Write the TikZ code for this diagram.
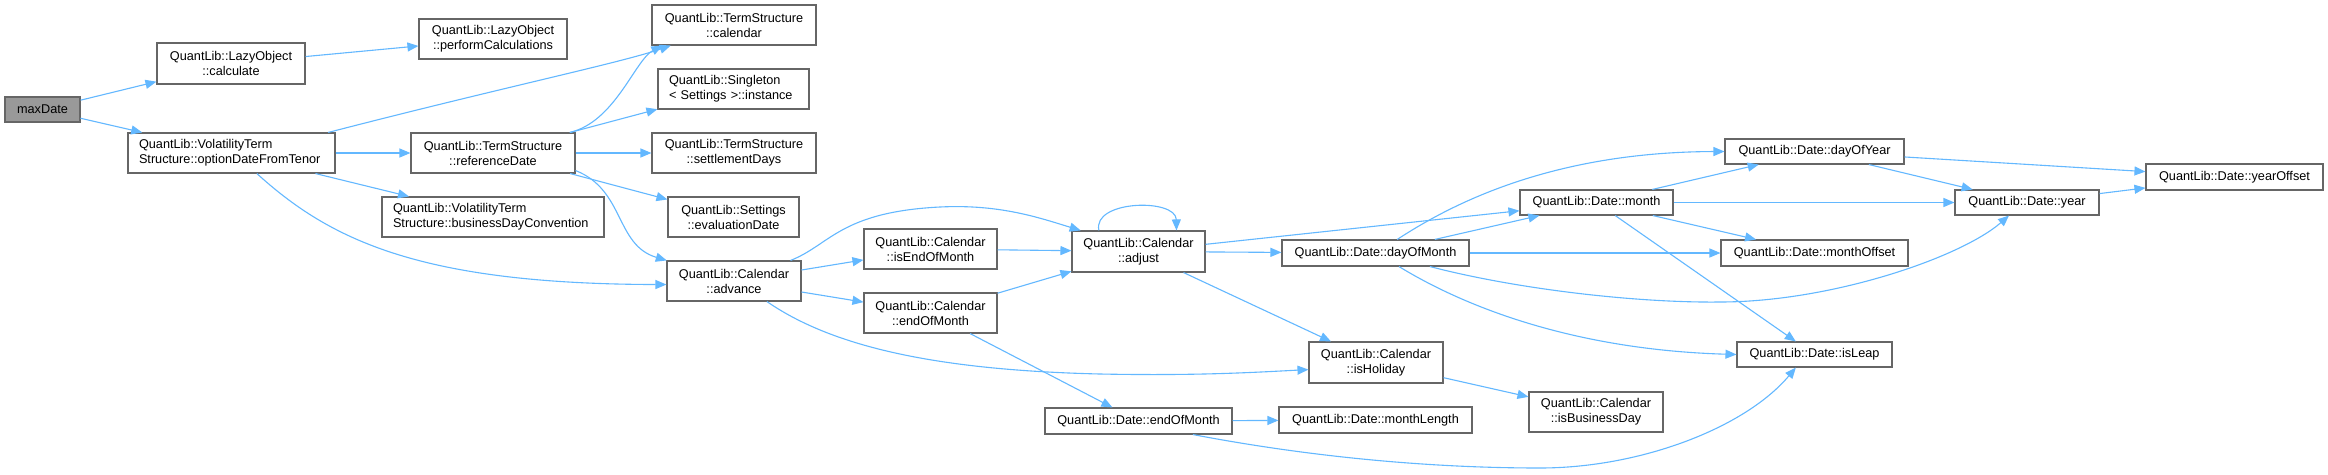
\documentclass[tikz,border=0pt]{standalone}
\usepackage{fontspec}
\setmainfont{Liberation Sans}
\usepackage{tikz}
\usetikzlibrary{arrows.meta}
\definecolor{dxEdge}{HTML}{63B8FF}
\definecolor{dxBorder}{HTML}{666666}
\definecolor{dxRootBg}{HTML}{999999}

\begin{document}
\begin{tikzpicture}[
    x=1pt, y=-1pt,
    fnbox/.style={draw=dxBorder, fill=white, line width=1.1pt, inner sep=0pt, align=center, font=\fontsize{12.7}{15}\selectfont},
    lbox/.style={fnbox, align=left},
    arr/.style={-{Triangle[length=11pt, width=9pt]}, line width=1.1pt, dxEdge},
]
\path[use as bounding box, fill=white] (0,0) rectangle (2328,474);

\node[fnbox, fill=dxRootBg, minimum width=75, minimum height=25] (maxDate) at (42.5,109.5) {maxDate};
\node[fnbox, minimum width=148, minimum height=41] (calc) at (231,63.5) {QuantLib::LazyObject\\::calculate};
\node[fnbox, minimum width=148, minimum height=40] (perfCalc) at (493,39) {QuantLib::LazyObject\\::performCalculations};
\node[lbox, text width=185, minimum width=207, minimum height=40] (optDate) at (231.5,153) {QuantLib::VolatilityTerm\\Structure::optionDateFromTenor};
\node[fnbox, minimum width=164, minimum height=40] (refDate) at (493,153) {QuantLib::TermStructure\\::referenceDate};
\node[lbox, text width=200, minimum width=222, minimum height=40] (bdConv) at (493,217) {QuantLib::VolatilityTerm\\Structure::businessDayConvention};
\node[fnbox, minimum width=164, minimum height=40] (tsCal) at (734,25) {QuantLib::TermStructure\\::calendar};
\node[lbox, text width=129, minimum width=151, minimum height=40] (instance) at (733.5,89) {QuantLib::Singleton\\< Settings >::instance};
\node[fnbox, minimum width=164, minimum height=40] (settleDays) at (734,153) {QuantLib::TermStructure\\::settlementDays};
\node[fnbox, minimum width=131, minimum height=40] (evalDate) at (733.5,217) {QuantLib::Settings\\::evaluationDate};
\node[fnbox, minimum width=134, minimum height=40] (advance) at (734,281) {QuantLib::Calendar\\::advance};
\node[fnbox, minimum width=133, minimum height=40] (isEom) at (930.5,249) {QuantLib::Calendar\\::isEndOfMonth};
\node[fnbox, minimum width=133, minimum height=40] (calEom) at (930.5,313) {QuantLib::Calendar\\::endOfMonth};
\node[fnbox, minimum width=133, minimum height=41] (adjust) at (1138.5,251.5) {QuantLib::Calendar\\::adjust};
\node[fnbox, minimum width=187, minimum height=26] (dateEom) at (1138.5,421) {QuantLib::Date::endOfMonth};
\node[fnbox, minimum width=187, minimum height=26] (dayOfMonth) at (1375.5,253) {QuantLib::Date::dayOfMonth};
\node[fnbox, minimum width=134, minimum height=41] (isHoliday) at (1376,362.5) {QuantLib::Calendar\\::isHoliday};
\node[fnbox, minimum width=193, minimum height=26] (monthLen) at (1375.5,420) {QuantLib::Date::monthLength};
\node[fnbox, minimum width=153, minimum height=25] (month) at (1596.5,202.5) {QuantLib::Date::month};
\node[fnbox, minimum width=134, minimum height=40] (isBusDay) at (1596,412) {QuantLib::Calendar\\::isBusinessDay};
\node[fnbox, minimum width=179, minimum height=25] (dayOfYear) at (1814.5,151.5) {QuantLib::Date::dayOfYear};
\node[fnbox, minimum width=187, minimum height=26] (monthOff) at (1814.5,253) {QuantLib::Date::monthOffset};
\node[fnbox, minimum width=155, minimum height=25] (isLeap) at (1814.5,354.5) {QuantLib::Date::isLeap};
\node[fnbox, minimum width=144, minimum height=25] (year) at (2027,202.5) {QuantLib::Date::year};
\node[fnbox, minimum width=177, minimum height=26] (yearOff) at (2234.5,177) {QuantLib::Date::yearOffset};

\draw[arr] (maxDate) -- (calc);
\draw[arr] (maxDate) -- (optDate);
\draw[arr] (calc) -- (perfCalc);
\draw[arr] (optDate.12) .. controls (500,88) and (620,63) .. (tsCal.198);
\draw[arr] (optDate) -- (refDate);
\draw[arr] (optDate) -- (bdConv);
\draw[arr] (optDate.-39) .. controls (330,240) and (420,284) .. (advance.183);
\draw[arr] (refDate.15) .. controls (615,122) and (635,60) .. (tsCal.196);
\draw[arr] (refDate) -- (instance);
\draw[arr] (refDate) -- (settleDays);
\draw[arr] (refDate) -- (evalDate);
\draw[arr] (refDate.-12) .. controls (625,190) and (615,245) .. (advance.163);
\draw[arr] (advance.20) .. controls (830,245) and (840,212) .. (940,207) .. controls (1000,204) and (1040,218) .. (adjust.160);
\draw[arr] (advance) -- (isEom);
\draw[arr] (advance) -- (calEom);
\draw[arr] (advance.-32) .. controls (830,345) and (930,370) .. (1100,374) .. controls (1200,376) and (1260,372) .. (isHoliday.186);
\draw[arr] (isEom) -- (adjust);
\draw[arr] (calEom) -- (adjust);
\draw[arr] (calEom) -- (dateEom);
\draw[arr] (adjust.152) .. controls (1092,200) and (1176,198) .. (adjust.29);
\draw[arr] (adjust) -- (month);
\draw[arr] (adjust) -- (dayOfMonth);
\draw[arr] (adjust) -- (isHoliday);
\draw[arr] (dayOfMonth.32) .. controls (1450,205) and (1550,152) .. (dayOfYear.west);
\draw[arr] (dayOfMonth) -- (month);
\draw[arr] (dayOfMonth) -- (monthOff);
\draw[arr] (dayOfMonth.-14) .. controls (1520,290) and (1640,303) .. (1720,302) .. controls (1830,302) and (1960,258) .. (year.216);
\draw[arr] (dayOfMonth.-30) .. controls (1470,310) and (1580,350) .. (isLeap.west);
\draw[arr] (month) -- (dayOfYear);
\draw[arr] (month) -- (year);
\draw[arr] (month) -- (monthOff);
\draw[arr] (month) -- (isLeap);
\draw[arr] (dayOfYear) -- (yearOff);
\draw[arr] (dayOfYear) -- (year);
\draw[arr] (year) -- (yearOff);
\draw[arr] (isHoliday) -- (isBusDay);
\draw[arr] (dateEom) -- (monthLen);
\draw[arr] (dateEom.-14) .. controls (1300,455) and (1420,468) .. (1540,468) .. controls (1640,468) and (1745,428) .. (isLeap.215);
\end{tikzpicture}
\end{document}
